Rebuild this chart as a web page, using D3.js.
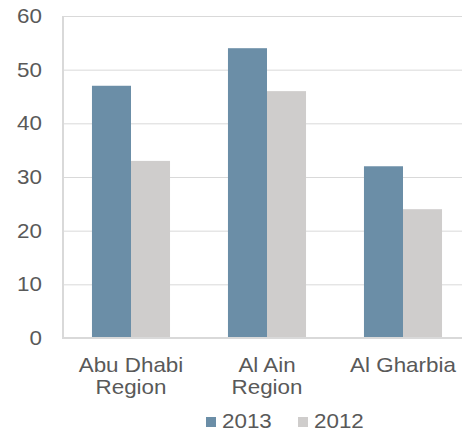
<!DOCTYPE html>
<html>
<head>
<meta charset="utf-8">
<script src="https://cdn.jsdelivr.net/npm/d3@7"></script>
<style>
  body { margin: 0; background: #fff; }
  text { font-family: "Liberation Sans", Arial, sans-serif; fill: #595959; }
</style>
</head>
<body>
<div id="chart"></div>
<script>
// data
var regions = [["Abu Dhabi", "Region"], ["Al Ain", "Region"], ["Al Gharbia"]];
var series = ["2013", "2012"];
var values2013 = [47, 54, 32];
var values2012 = [33, 46, 24];
var yTicks = [0, 10, 20, 30, 40, 50, 60];

var colors = { "2013": "#6b8ea7", "2012": "#cfcdcc" };

var svg_w = 462, svg_h = 432;
var plot_left = 63, plot_top = 16, plot_bottom = 338;
var stretch = 1.12; // text is a bit wide in the picture

var svg = d3.select("#chart")
  .append("svg")
  .attr("width", svg_w)
  .attr("height", svg_h);

var names = regions.map(function(d) { return d.join(" "); });

var x0 = d3.scaleBand()
  .domain(names)
  .range([plot_left, plot_left + 408])
  .paddingInner(0.426)
  .paddingOuter(0.213);

var x1 = d3.scaleBand()
  .domain(series)
  .range([0, x0.bandwidth()]);

var y = d3.scaleLinear()
  .domain([0, 60])
  .range([plot_bottom, plot_top]);

// grid lines
svg.append("g")
  .selectAll("line")
  .data(yTicks.slice(1))
  .enter()
  .append("line")
  .attr("x1", plot_left)
  .attr("x2", svg_w)
  .attr("y1", function(d) { return y(d) + 0.5; })
  .attr("y2", function(d) { return y(d) + 0.5; })
  .attr("stroke", "#d9d9d9")
  .attr("stroke-width", 1);

// bars
var rows = names.map(function(n, i) {
  return { name: n, vals: [["2013", values2013[i]], ["2012", values2012[i]]] };
});

svg.append("g")
  .selectAll("g")
  .data(rows)
  .enter()
  .append("g")
  .attr("transform", function(d) { return "translate(" + x0(d.name) + ",0)"; })
  .selectAll("rect")
  .data(function(d) { return d.vals; })
  .enter()
  .append("rect")
  .attr("x", function(d) { return x1(d[0]); })
  .attr("width", x1.bandwidth())
  .attr("y", function(d) { return y(d[1]); })
  .attr("height", function(d) { return y(0) - y(d[1]); })
  .attr("fill", function(d) { return colors[d[0]]; });

// axis lines
svg.append("line")
  .attr("x1", plot_left).attr("x2", plot_left)
  .attr("y1", plot_top).attr("y2", plot_bottom + 1)
  .attr("stroke", "#d9d9d9").attr("stroke-width", 2);
svg.append("line")
  .attr("x1", plot_left).attr("x2", svg_w)
  .attr("y1", plot_bottom).attr("y2", plot_bottom)
  .attr("stroke", "#d9d9d9").attr("stroke-width", 2);

// y tick labels
svg.append("g")
  .selectAll("text")
  .data(yTicks)
  .enter()
  .append("text")
  .attr("transform", function(d) { return "translate(42," + (y(d) + 7) + ") scale(" + stretch + ",1)"; })
  .attr("text-anchor", "end")
  .attr("font-size", 20)
  .text(function(d) { return d; });

// category labels
var cat = svg.append("g")
  .selectAll("text")
  .data(regions)
  .enter()
  .append("text")
  .attr("transform", function(d, i) {
    return "translate(" + (x0(names[i]) + x0.bandwidth() / 2) + ",372) scale(" + stretch + ",1)";
  })
  .attr("text-anchor", "middle")
  .attr("font-size", 20);

cat.selectAll("tspan")
  .data(function(d) { return d; })
  .enter()
  .append("tspan")
  .attr("x", 0)
  .attr("dy", function(d, i) { return i == 0 ? 0 : 22; })
  .text(function(d) { return d; });

// legend
var legendX = [206, 298];
var legend = svg.append("g")
  .selectAll("g")
  .data(series)
  .enter()
  .append("g")
  .attr("transform", function(d, i) { return "translate(" + legendX[i] + ",417)"; });

legend.append("rect")
  .attr("width", 10)
  .attr("height", 10)
  .attr("fill", function(d) { return colors[d]; });

legend.append("text")
  .attr("transform", "translate(16,11) scale(" + stretch + ",1)")
  .attr("font-size", 20)
  .text(function(d) { return d; });
</script>
</body>
</html>
